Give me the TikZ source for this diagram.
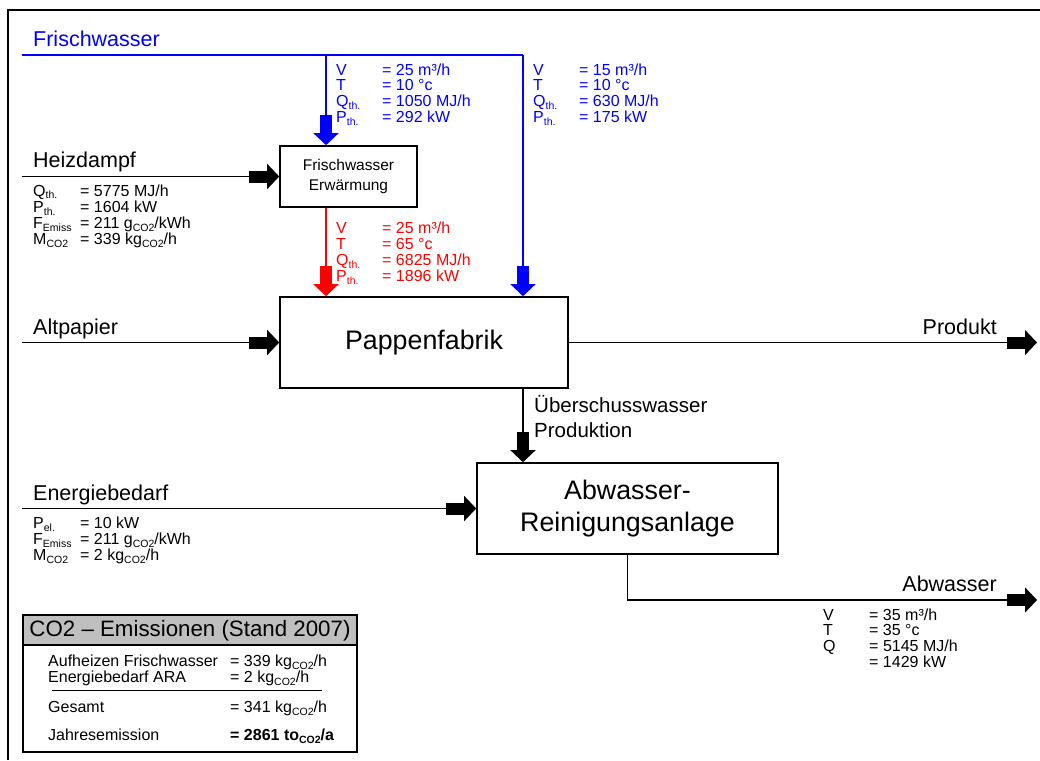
\documentclass[tikz,border=0pt]{standalone}
\usepackage{fontspec}
\setmainfont{Liberation Sans}
\usetikzlibrary{arrows.meta}
\newcommand{\lsub}[1]{\raisebox{-0.35ex}{\fontsize{10.5}{10}\selectfont #1}}
\newcommand{\dtab}[2]{\begin{tabular}[t]{@{}p{#1}@{}l@{}}#2\end{tabular}}
\begin{document}
\begin{tikzpicture}[x=1pt,y=-1pt,
  conn/.style={line width=1.3pt},
  blockarrow/.style={-{Rectangle[length=18pt,width=12pt,sep=0pt]Triangle[length=12pt,width=25pt,sep=0pt]}},
  box/.style={draw,line width=1.6pt,inner sep=0pt,align=center},
  lbl/.style={font=\fontsize{21.5}{25}\selectfont,inner sep=0pt},
  data/.style={font=\fontsize{16}{15}\selectfont,inner sep=0pt,anchor=base west},
  co2/.style={font=\fontsize{16}{14}\selectfont,inner sep=0pt,anchor=base west}]
\useasboundingbox (0,0) rectangle (1040,760);
\fill[white] (0,0) rectangle (1040,760);
% frame
\draw[line width=2pt] (8,760) -- (8,10) -- (1040,10);

% boxes
\node[box,minimum width=137pt,minimum height=61pt,font=\fontsize{15.5}{20}\selectfont] (erw) at (348.5,176.5) {Frischwasser\\Erwärmung};
\node[box,minimum width=288pt,minimum height=91pt,font=\fontsize{26.8}{32}\selectfont] (papp) at (424,342.5) {Pappenfabrik};
\node[box,minimum width=301pt,minimum height=91pt,font=\fontsize{26.8}{32}\selectfont] (abw) at (627.5,508.5) {Abwasser-\\Reinigungsanlage};

% coordinates
\coordinate (fw0) at (22,55);
\coordinate (fwA) at (326,55);
\coordinate (fwB) at (523,55);
\coordinate (hd) at (22,176.5);
\coordinate (ap) at (22,342.5);
\coordinate (prod) at (1037,342.5);
\coordinate (eb) at (22,508.5);
\coordinate (awout) at (1037,600);

% connectors
\draw[conn,blue] (fw0) -- (fwB);
\draw[conn,blue,blockarrow] (fwA) -- (fwA |- erw.north);
\draw[conn,blue,blockarrow] (fwB) -- (fwB |- papp.north);
\draw[conn,red,blockarrow] (fwA |- erw.south) -- (fwA |- papp.north);
\draw[conn,blockarrow] (hd) -- (erw.west);
\draw[conn,blockarrow] (ap) -- (papp.west);
\draw[conn,blockarrow] (papp.east) -- (prod);
\draw[conn,blockarrow] (fwB |- papp.south) -- (fwB |- abw.north);
\draw[conn,blockarrow] (eb) -- (abw.west);
\draw[conn,blockarrow] (abw.south) |- (awout);

% labels
\node[lbl,anchor=base west,text=blue] (lfw) at (33,46.5) {Frischwasser};
\node[lbl,anchor=base west] (lhd) at (33,167) {Heizdampf};
\node[lbl,anchor=base west] (lap) at (33,334) {Altpapier};
\node[lbl,anchor=base west] (leb) at (33,500) {Energiebedarf};
\node[lbl,anchor=base east] (lpr) at (997,334) {Produkt};
\node[lbl,anchor=base east] (law) at (997,591) {Abwasser};
\node[lbl,anchor=base west,font=\fontsize{20.5}{25}\selectfont] (lue) at (534,412.5) {\begin{tabular}[t]{@{}l@{}}Überschusswasser\\Produktion\end{tabular}};

% data blocks
\node[data] (dhd) at (33,196) {\dtab{47pt}{Q\lsub{th.} & = 5775 MJ/h\\ P\lsub{th.} & = 1604 kW\\ F\lsub{Emiss} & = 211 g\lsub{CO2}/kWh\\ M\lsub{CO2} & = 339 kg\lsub{CO2}/h}};
\node[data,text=blue] (dfw1) at (336,75) {\dtab{46pt}{V & = 25 m³/h\\ T & = 10 °c\\ Q\lsub{th.} & = 1050 MJ/h\\ P\lsub{th.} & = 292 kW}};
\node[data,text=blue] (dfw2) at (533,75) {\dtab{46pt}{V & = 15 m³/h\\ T & = 10 °c\\ Q\lsub{th.} & = 630 MJ/h\\ P\lsub{th.} & = 175 kW}};
\node[data,text=red] (dfw3) at (336,233.5) {\dtab{46pt}{V & = 25 m³/h\\ T & = 65 °c\\ Q\lsub{th.} & = 6825 MJ/h\\ P\lsub{th.} & = 1896 kW}};
\node[data] (deb) at (33,528.5) {\dtab{47pt}{P\lsub{el.} & = 10 kW\\ F\lsub{Emiss} & = 211 g\lsub{CO2}/kWh\\ M\lsub{CO2} & = 2 kg\lsub{CO2}/h}};
\node[data,font=\fontsize{16}{14}\selectfont] (daw) at (823,620.5) {\dtab{46pt}{V & = 35 m³/h\\ T & = 35 °c\\ Q & = 5145 MJ/h\\ & = 1429 kW}};

% CO2 box
\fill[gray!50] (23,615) rectangle (357,645);
\draw[line width=1.6pt] (23,645) -- (357,645);
\draw[line width=1.6pt] (23,615) rectangle (357,752);
\node[font=\fontsize{22.3}{26}\selectfont,inner sep=0pt] (ctitle) at (190,630.5) {CO2 – Emissionen (Stand 2007)};
\node[co2] (c1) at (48,666.5) {\dtab{182pt}{Aufheizen Frischwasser & = 339 kg\lsub{CO2}/h\\ Energiebedarf ARA & = 2 kg\lsub{CO2}/h}};
\draw[line width=0.9pt] (52,690) -- (322,690);
\node[co2] (c2) at (48,712.5) {\dtab{182pt}{Gesamt & = 341 kg\lsub{CO2}/h}};
\node[co2] (c3) at (48,740.5) {\dtab{182pt}{Jahresemission & \textbf{= 2861 to\lsub{CO2}/a}}};
\end{tikzpicture}
\end{document}
